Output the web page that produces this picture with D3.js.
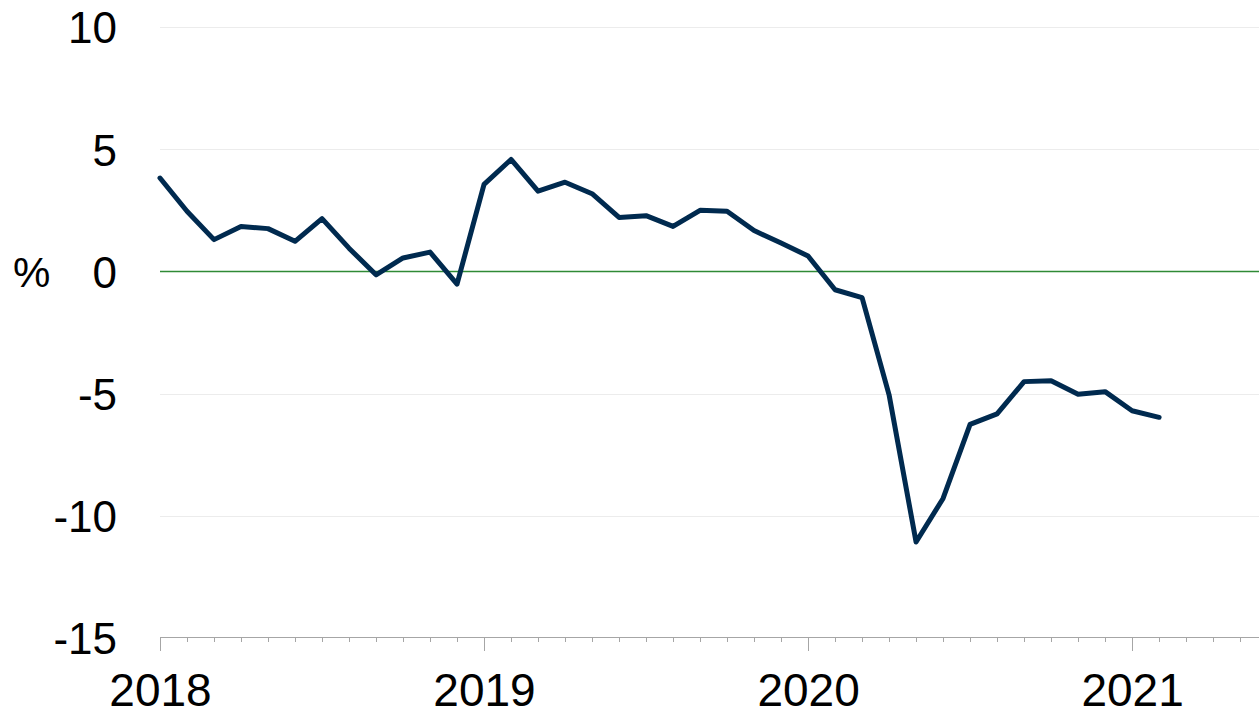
<!DOCTYPE html>
<html lang="en">
<head>
    <meta charset="UTF-8">
    <title>Line chart</title>
    <script src="https://cdn.jsdelivr.net/npm/d3@7"></script>
    <style>
        body { margin: 0; background: #fff; }
        text { font-family: 'Liberation Sans', Arial, sans-serif; fill: #000; }
        .grid line { stroke: #ececec; stroke-width: 1; }
        .x.axis path, .x.axis line { stroke: #a6a6a6; stroke-width: 1.3; shape-rendering: crispEdges; }
    </style>
</head>
<body>
<svg id="img" width="1259" height="715"></svg>
<script>
    // monthly values, Jan 2018 - Feb 2021 (%)
    var months = ["2018-01","2018-02","2018-03","2018-04","2018-05","2018-06","2018-07","2018-08","2018-09","2018-10","2018-11","2018-12",
                  "2019-01","2019-02","2019-03","2019-04","2019-05","2019-06","2019-07","2019-08","2019-09","2019-10","2019-11","2019-12",
                  "2020-01","2020-02","2020-03","2020-04","2020-05","2020-06","2020-07","2020-08","2020-09","2020-10","2020-11","2020-12",
                  "2021-01","2021-02"];
    var values = [3.82, 2.46, 1.30, 1.84, 1.75, 1.23, 2.16, 0.95, -0.14, 0.55, 0.79, -0.52,
                  3.56, 4.58, 3.28, 3.65, 3.18, 2.21, 2.28, 1.84, 2.50, 2.46, 1.67, 1.16,
                  0.63, -0.75, -1.07, -5.05, -11.07, -9.29, -6.26, -5.83, -4.51, -4.47, -5.03, -4.92,
                  -5.70, -5.97];
    var yearLabels = ["2018", "2019", "2020", "2021"];
    var yTicks = [10, 5, 0, -5, -10, -15];

    var vis = d3.select("#img"),
        WIDTH = 1259,
        HEIGHT = 715,
        MARGINS = { top: 27, right: 0, bottom: 78, left: 160 };

    var start = d3.timeParse("%Y-%m")(months[0]);
    var parse = d3.timeParse("%Y-%m");
    function monthIndex(d) {
        return (d.getFullYear() - start.getFullYear()) * 12 + d.getMonth() - start.getMonth();
    }

    var data = months.map(function (m, i) {
        return { i: monthIndex(parse(m)), v: values[i] };
    });

    var xRange = d3.scaleLinear()
        .domain([0, 40.7])
        .range([MARGINS.left, WIDTH - MARGINS.right]);

    var yRange = d3.scaleLinear()
        .domain([-15, 10])
        .range([HEIGHT - MARGINS.bottom + 1, MARGINS.top]);

    // gridlines
    vis.append("g")
        .attr("class", "grid")
        .selectAll("line")
        .data(yTicks.filter(function (t) { return t !== 0 && t !== -15; }))
        .enter().append("line")
        .attr("x1", MARGINS.left)
        .attr("x2", WIDTH)
        .attr("y1", function (d) { return Math.round(yRange(d)) + 0.5; })
        .attr("y2", function (d) { return Math.round(yRange(d)) + 0.5; });

    // zero line
    vis.append("line")
        .attr("x1", MARGINS.left)
        .attr("x2", WIDTH)
        .attr("y1", Math.round(yRange(0)) + 0.5)
        .attr("y2", Math.round(yRange(0)) + 0.5)
        .attr("stroke", "#2f8a35")
        .attr("stroke-width", 1.3);

    // y axis labels (plain hyphen minus, as in the source)
    var yAxis = d3.axisLeft(yRange)
        .tickValues(yTicks)
        .tickSize(0)
        .tickPadding(43)
        .tickFormat(function (d) { return String(d); });

    var yg = vis.append("g")
        .attr("transform", "translate(" + MARGINS.left + ",0)")
        .call(yAxis);
    yg.select(".domain").remove();
    yg.selectAll("text").style("font-size", "44px").attr("dy", "0.36em");

    vis.append("text")
        .attr("x", 13)
        .attr("y", yRange(0))
        .attr("dy", "0.36em")
        .style("font-size", "42px")
        .text("%");

    // x axis: monthly minor ticks
    var axisY = HEIGHT - MARGINS.bottom;
    var monthTicks = d3.range(0, 41);
    var xMinor = d3.axisBottom(xRange)
        .tickValues(monthTicks)
        .tickSize(5)
        .tickSizeOuter(0)
        .tickFormat("");

    vis.append("g")
        .attr("class", "x axis")
        .attr("transform", "translate(0," + axisY + ")")
        .call(xMinor);

    // year ticks with labels
    var xMajor = d3.axisBottom(xRange)
        .tickValues(yearLabels.map(function (y, k) { return k * 12; }))
        .tickSize(14)
        .tickSizeOuter(0)
        .tickPadding(22)
        .tickFormat(function (d, k) { return yearLabels[k]; });

    var xg = vis.append("g")
        .attr("class", "x axis")
        .attr("transform", "translate(0," + axisY + ")")
        .call(xMajor);
    xg.select(".domain").remove();
    xg.selectAll("text").style("font-size", "46px");

    // line
    var lineFunc = d3.line()
        .x(function (d) { return xRange(d.i); })
        .y(function (d) { return yRange(d.v); });

    vis.append("path")
        .attr("d", lineFunc(data))
        .attr("stroke", "#002a4f")
        .attr("stroke-width", 5)
        .attr("stroke-linejoin", "round")
        .attr("stroke-linecap", "round")
        .attr("fill", "none");
</script>
</body>
</html>
